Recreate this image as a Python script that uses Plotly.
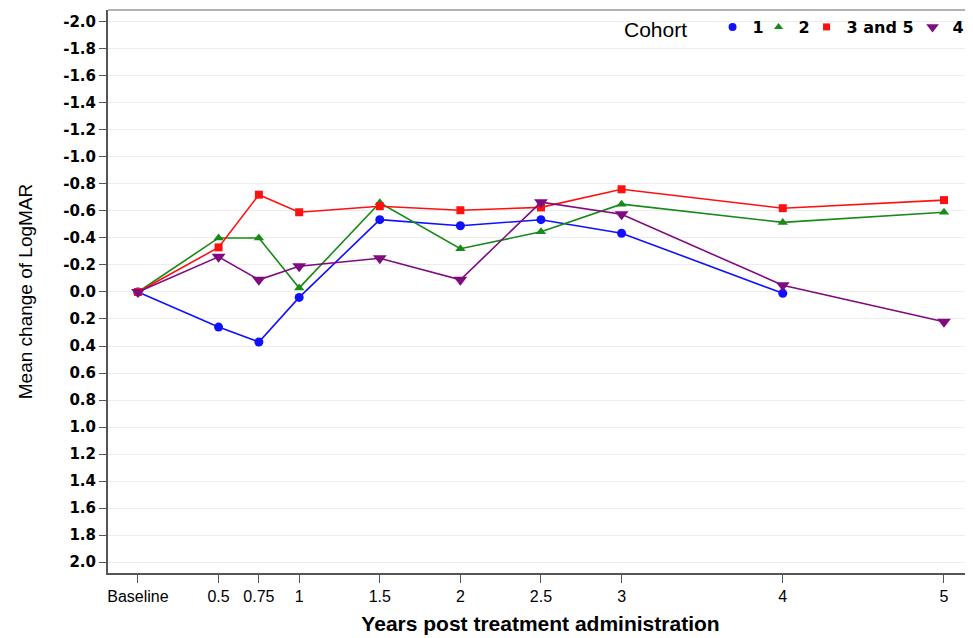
import plotly.graph_objects as go

# ---- data ----
years = [0, 0.5, 0.75, 1, 1.5, 2, 2.5, 3, 4, 5]
x_tick_labels = ["Baseline", "0.5", "0.75", "1", "1.5", "2", "2.5", "3", "4", "5"]

cohort_1_x = [0, 0.5, 0.75, 1, 1.5, 2, 2.5, 3, 4]
cohort_1_y = [0.0, 0.26, 0.37, 0.04, -0.535, -0.49, -0.535, -0.435, 0.01]

cohort_2_x = [0, 0.5, 0.75, 1, 1.5, 2, 2.5, 3, 4, 5]
cohort_2_y = [0.0, -0.40, -0.40, -0.03, -0.66, -0.32, -0.445, -0.65, -0.515, -0.59]

cohort_35_x = [0, 0.5, 0.75, 1, 1.5, 2, 2.5, 3, 4, 5]
cohort_35_y = [0.0, -0.33, -0.72, -0.59, -0.635, -0.605, -0.626, -0.76, -0.62, -0.68]

cohort_4_x = [0, 0.5, 0.75, 1, 1.5, 2, 2.5, 3, 4, 5]
cohort_4_y = [0.0, -0.26, -0.09, -0.19, -0.25, -0.09, -0.665, -0.575, -0.05, 0.22]

y_tick_vals = [-2.0, -1.8, -1.6, -1.4, -1.2, -1.0, -0.8, -0.6, -0.4, -0.2, 0.0,
               0.2, 0.4, 0.6, 0.8, 1.0, 1.2, 1.4, 1.6, 1.8, 2.0]
y_tick_labels = ["-2.0", "-1.8", "-1.6", "-1.4", "-1.2", "-1.0", "-0.8", "-0.6", "-0.4", "-0.2", "0.0",
                 "0.2", "0.4", "0.6", "0.8", "1.0", "1.2", "1.4", "1.6", "1.8", "2.0"]

# (name, x, y, colour, symbol, marker size, legend entry width)
series = [
    ("1", cohort_1_x, cohort_1_y, "#1010ff", "circle", 9, 1),
    ("2", cohort_2_x, cohort_2_y, "#178a17", "triangle-up", 9, 3),
    ("3 and 5", cohort_35_x, cohort_35_y, "#ff1010", "square", 8, 61),
    ("4", cohort_4_x, cohort_4_y, "#800a80", "triangle-down", 12, 15),
]

fig = go.Figure()
for name, xs, ys, col, sym, sz, lw in series:
    fig.add_trace(go.Scatter(
        x=xs, y=ys, name=name, mode="lines+markers", showlegend=False,
        line=dict(color=col, width=1.6),
        marker=dict(color=col, symbol=sym, size=sz),
    ))
# legend entries: markers only (no line sample), as in the reference
for name, xs, ys, col, sym, sz, lw in series:
    fig.add_trace(go.Scatter(
        x=[None], y=[None], name=name, mode="markers", showlegend=True,
        legendwidth=lw,
        marker=dict(color=col, symbol=sym, size=sz - 1),
    ))

fig.update_layout(
    width=965, height=630,
    margin=dict(l=100, r=0, t=2, b=65),
    paper_bgcolor="white", plot_bgcolor="white",
    font=dict(family="DejaVu Sans", color="black"),
    legend=dict(
        orientation="h", x=1, y=1.0, xanchor="right", yanchor="top",
        title=dict(text="Cohort   ", font=dict(family="Liberation Sans", size=21, weight="normal")),
        font=dict(family="DejaVu Sans", size=16, weight="bold"),
        bgcolor="rgba(255,255,255,0)", itemwidth=30, tracegroupgap=0,
    ),
    xaxis=dict(
        range=[-0.186, 5.18], tickmode="array", tickvals=years, ticktext=x_tick_labels,
        showgrid=False, zeroline=False, showline=True, linecolor="#555", linewidth=2,
        ticks="outside", ticklen=8, tickcolor="#555",
        tickfont=dict(family="Liberation Sans", size=16),
        title=dict(text="<b>Years post treatment administration</b>",
                   font=dict(family="Liberation Sans", size=21), standoff=12),
    ),
    yaxis=dict(
        range=[2.08, -2.087], tickmode="array", tickvals=y_tick_vals, ticktext=y_tick_labels,
        showgrid=True, gridcolor="#ededed", gridwidth=1, zeroline=False,
        showline=True, linecolor="#555", linewidth=2,
        ticks="outside", ticklen=7, tickcolor="#555",
        tickfont=dict(family="DejaVu Sans", size=15, weight="bold"),
        title=dict(text="Mean change of LogMAR", font=dict(family="Liberation Sans", size=19), standoff=26),
    ),
    shapes=[dict(type="line", xref="paper", yref="paper", x0=0, x1=1, y0=1, y1=1,
                 line=dict(color="#999", width=1.5))],
)

fig.write_html("out.html")
